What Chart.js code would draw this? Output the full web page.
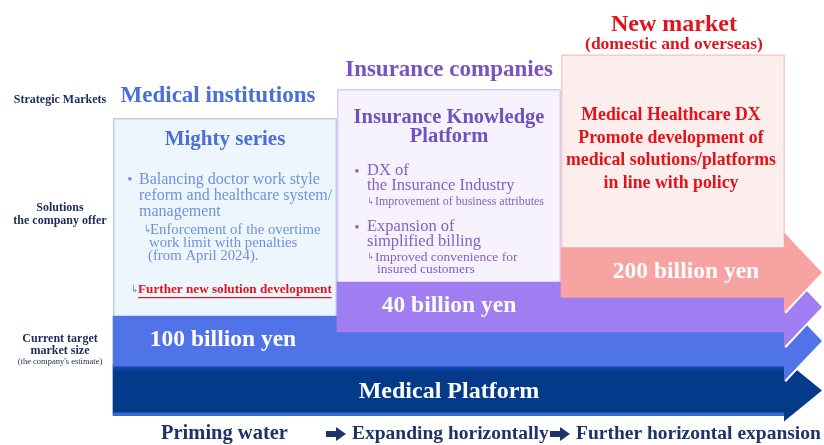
<!DOCTYPE html>
<html>
<head>
<meta charset="utf-8">
<script src="https://cdn.jsdelivr.net/npm/chart.js@4.4.1/dist/chart.umd.min.js"></script>
<style>
  html, body { margin: 0; padding: 0; background: #fff; }
  canvas { display: block; }
</style>
</head>
<body>
<canvas id="myChart" width="824" height="445"></canvas>
<script>
// data
const phases = ['Priming water', 'Expanding horizontally', 'Further horizontal expansion']
const markets = ['Medical institutions', 'Insurance companies', 'New market']
const marketNotes = ['', '', '(domestic and overseas)']
const marketSizes = [100, 40, 200]          // billion yen
const marketStartPhase = [0, 1, 2]
const sizeUnit = 'billion yen'
const platformName = 'Medical Platform'
const rowLabels = [['Strategic Markets'], ['Solutions', 'the company offer'], ['Current target', 'market size', "(the company's estimate)"]]

const mightyTitle = 'Mighty series'
const mightyBullet = ['Balancing doctor work style', 'reform and healthcare system/', 'management']
const mightyNote = ['Enforcement of the overtime', 'work limit with penalties', '(from April 2024).']
const mightyNext = 'Further new solution development'
const ikpTitle = ['Insurance Knowledge', 'Platform']
const ikpItems = [['DX of', 'the Insurance Industry'], ['Expansion of', 'simplified billing']]
const ikpNotes = [['Improvement of business attributes'], ['Improved convenience for', 'insured customers']]
const newSolution = ['Medical Healthcare DX', 'Promote development of', 'medical solutions/platforms', 'in line with policy']

// layout / style
const SERIF = "'Liberation Serif', 'DejaVu Serif', serif"
const bandCenter = [341, 307, 272.5]
const platformCenter = 390.5
const bandThickness = 50
const boxHeight = [198, 193, 193]
const headOverhang = [15, 15, 15, 6]
const headLength = 0.165
const bandColors = ['#5074e8', '#a07ef1', '#f7a3a2']
const platformColor = '#033a8a'
const boxFill = ['#eef6fd', '#f6f2fe', '#fdeeee']
const boxStroke = ['#b9d0ea', '#d9cdf3', '#f3cccc']
const headColors = ['#4a6fd6', '#7a52c2', '#e3121b']
const headerDx = [105, 112, 113]
const headerDy = [-22, -19, -30]
const labelDx = [110, 112, 125]
const red = '#e3121b'

function txt(ctx, s, x, y, size, color, bold, align) {
    ctx.font = (bold ? 'bold ' : '') + size + 'px ' + SERIF
    ctx.fillStyle = color
    ctx.textAlign = align || 'center'
    ctx.textBaseline = 'middle'
    ctx.fillText(s, x, y)
}

function dsIndex(i) { return markets.length - 1 - i }

function bandEl(chart, di) {
    return chart.getDatasetMeta(di).data[0].getProps(['x', 'y', 'base', 'height'], true)
}

const datasets = markets.map((m, i) => ({
    label: m,
    data: [{ x: [marketStartPhase[i], phases.length], y: bandCenter[i] }],
    backgroundColor: bandColors[i]
})).reverse()
datasets.push({
    label: platformName,
    data: [{ x: [0, phases.length], y: platformCenter }],
    backgroundColor: platformColor
})

const diagram = {
    id: 'diagram',
    beforeDraw(chart) {
        const ctx = chart.ctx
        ctx.save()
        ctx.fillStyle = '#fff'
        ctx.fillRect(0, 0, chart.width, chart.height)
        ctx.restore()
    },
    beforeDatasetsDraw(chart) {
        const ctx = chart.ctx
        const xs = chart.scales.x
        ctx.save()
        markets.forEach((m, i) => {
            const el = bandEl(chart, dsIndex(i))
            const L = el.base
            const R = xs.getPixelForValue(marketStartPhase[i] + 1)
            const B = el.y - el.height / 2
            const T = B - boxHeight[i]
            ctx.fillStyle = boxFill[i]
            ctx.fillRect(L, T, R - L, B - T)
            ctx.strokeStyle = boxStroke[i]
            ctx.lineWidth = 1.5
            ctx.strokeRect(L + 0.75, T + 0.75, R - L - 1.5, B - T)
            // headers
            if (marketNotes[i]) {
                txt(ctx, m, L + headerDx[i], T + headerDy[i], 24, headColors[i], true)
                txt(ctx, marketNotes[i], L + headerDx[i], T - 10, 17.5, headColors[i], true)
            } else {
                txt(ctx, m, L + headerDx[i], T + headerDy[i], 23, headColors[i], true)
            }
            if (i === 0) {
                txt(ctx, mightyTitle, L + 112, T + 22, 21, headColors[0], true)
                const c = '#7090dd'
                txt(ctx, '•', L + 17, T + 62, 15, c, false)
                mightyBullet.forEach((s, k) => txt(ctx, s, L + 26, T + 62 + k * 16, 16, c, false, 'left'))
                txt(ctx, '↳', L + 30, T + 112, 11, c, false, 'left')
                mightyNote.forEach((s, k) => txt(ctx, s, L + 37 - k, T + 112 + k * 13, 14.8, c, false, 'left'))
                txt(ctx, '↳', L + 17, T + 172, 11, c, false, 'left')
                txt(ctx, mightyNext, L + 25, T + 172, 13.2, red, true, 'left')
                const w = ctx.measureText(mightyNext).width
                ctx.fillStyle = red
                ctx.fillRect(L + 25, T + 179, w, 1.2)
            } else if (i === 1) {
                const c = '#8660c2'
                ikpTitle.forEach((s, k) => txt(ctx, s, L + 112, T + 29 + k * 19, 20.5, '#7150c0', true))
                const itemY = [82, 138]
                const noteY = [[113], [168, 180]]
                ikpItems.forEach((lines, k) => {
                    txt(ctx, '•', L + 20, T + itemY[k] + 1, 14, c, false)
                    lines.forEach((s, j) => txt(ctx, s, L + 30, T + itemY[k] + j * 15, 16.5, c, false, 'left'))
                    txt(ctx, '↳', L + 30, T + noteY[k][0], 9, c, false, 'left')
                    ikpNotes[k].forEach((s, j) => txt(ctx, s, L + 38 + j * 2, T + noteY[k][j], k === 0 ? 12 : 13.5, c, false, 'left'))
                })
            } else {
                newSolution.forEach((s, k) => txt(ctx, s, L + 110, T + 61 + k * 22.7, 17.8, red, true))
            }
        })
        ctx.restore()
    },
    afterDatasetDraw(chart, args) {
        const ctx = chart.ctx
        const xs = chart.scales.x
        const el = bandEl(chart, args.index)
        const tip = xs.getPixelForValue(phases.length + headLength)
        const oh = headOverhang[markets.length - 1 - args.index] ?? headOverhang[3]
        const top = el.y - el.height / 2 - oh
        const bot = el.y + el.height / 2 + oh
        ctx.save()
        if (args.index === markets.length) {
            // soft top edge and light bottom rim of the platform band
            const g = ctx.createLinearGradient(0, el.y - el.height / 2, 0, el.y - el.height / 2 + 9)
            g.addColorStop(0, 'rgba(40,90,200,0.85)')
            g.addColorStop(1, 'rgba(3,58,138,0)')
            ctx.fillStyle = g
            ctx.fillRect(el.base, el.y - el.height / 2, el.x - el.base, 9)
            ctx.fillStyle = '#2f6fd6'
            ctx.fillRect(el.base, el.y + el.height / 2 - 3, el.x - el.base, 3)
        }
        ctx.beginPath()
        ctx.moveTo(el.x, top)
        ctx.lineTo(tip, el.y)
        ctx.lineTo(el.x, bot)
        ctx.strokeStyle = '#fff'
        ctx.lineWidth = 3
        ctx.stroke()
        ctx.beginPath()
        ctx.moveTo(el.x - 1, top)
        ctx.lineTo(tip, el.y)
        ctx.lineTo(el.x - 1, bot)
        ctx.closePath()
        ctx.fillStyle = chart.data.datasets[args.index].backgroundColor
        ctx.fill()
        ctx.restore()
    },
    afterDatasetsDraw(chart) {
        const ctx = chart.ctx
        const xs = chart.scales.x
        ctx.save()
        markets.forEach((m, i) => {
            const el = bandEl(chart, dsIndex(i))
            txt(ctx, marketSizes[i] + ' ' + sizeUnit, el.base + labelDx[i], el.y - 1, 23.5, '#fff', true)
        })
        const pe = bandEl(chart, markets.length)
        txt(ctx, platformName, xs.getPixelForValue(1.5), pe.y + 1, 24, '#fff', true)

        // row labels
        const navy = '#1c2b5e'
        const med = bandEl(chart, dsIndex(0))
        const medBottom = med.y - med.height / 2
        const medTop = medBottom - boxHeight[0]
        txt(ctx, rowLabels[0][0], 60, medTop - 18, 12, navy, true)
        const mid = (medTop + medBottom) / 2
        txt(ctx, rowLabels[1][0], 60, mid - 9, 12, navy, true)
        txt(ctx, rowLabels[1][1], 60, mid + 4, 12, navy, true)
        txt(ctx, rowLabels[2][0], 60, med.y - 2, 12, navy, true)
        txt(ctx, rowLabels[2][1], 60, med.y + 10, 12, navy, true)
        txt(ctx, rowLabels[2][2], 60, med.y + 21, 8.5, navy, false)

        // phase labels
        const pc = '#1d3468'
        const offs = [48, 15, 15]
        const sizes = [20.5, 19.5, 19.5]
        const y = 434
        phases.forEach((p, i) => {
            const x = xs.getPixelForValue(i) + offs[i]
            txt(ctx, p, x, y, sizes[i], pc, true, 'left')
            if (i > 0) {
                const ax = x - 26
                ctx.fillStyle = pc
                ctx.fillRect(ax, y - 3, 11, 6)
                ctx.beginPath()
                ctx.moveTo(ax + 10, y - 7)
                ctx.lineTo(ax + 20, y)
                ctx.lineTo(ax + 10, y + 7)
                ctx.closePath()
                ctx.fill()
            }
        })
        ctx.restore()
    }
}

const ctx = document.getElementById('myChart').getContext('2d')
const chart = new Chart(ctx, {
    type: 'bar',
    data: { datasets: datasets },
    options: {
        indexAxis: 'y',
        responsive: false,
        animation: false,
        layout: { padding: 0 },
        datasets: { bar: { grouped: false, barThickness: bandThickness, borderWidth: 0 } },
        plugins: { legend: { display: false }, tooltip: { enabled: false } },
        scales: {
            x: { type: 'linear', min: -113 / 224, max: 711 / 224, display: false, offset: false },
            y: { type: 'linear', min: 0, max: 445, reverse: true, display: false, offset: false }
        }
    },
    plugins: [diagram]
})
</script>
</body>
</html>
